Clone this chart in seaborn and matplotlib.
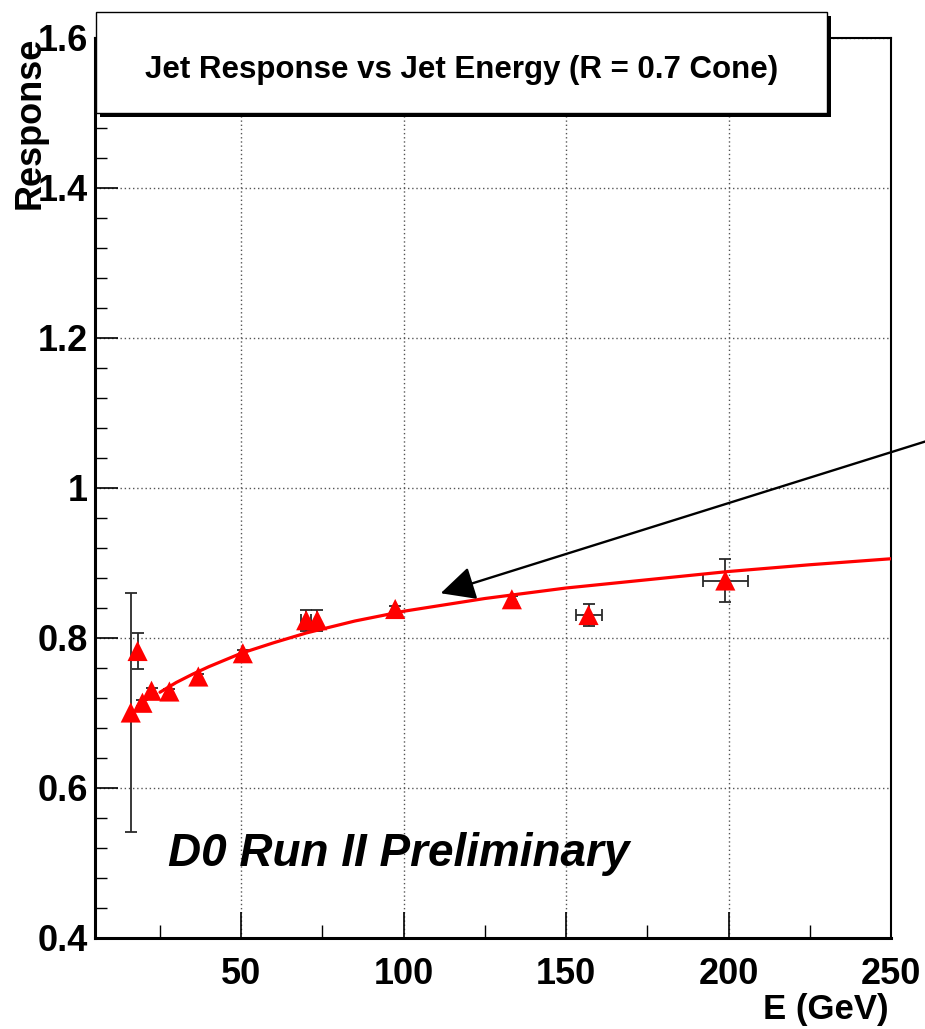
import numpy as np
import pandas as pd
import matplotlib
matplotlib.use("Agg")
import matplotlib.pyplot as plt
from matplotlib.patches import Rectangle
from matplotlib.ticker import MultipleLocator
import seaborn as sns

# Measured jet response per energy bin
energy = [16.0, 18.1, 19.6, 22.4, 27.9, 36.8, 50.5, 70.0, 73.4, 97.4, 133.3, 156.9, 199.0]
response = [0.700, 0.782, 0.713, 0.729, 0.728, 0.748, 0.779, 0.823, 0.823, 0.838, 0.851, 0.830, 0.876]
energy_err = [0, 0, 0, 0, 0, 0, 0, 1.5, 0, 0, 0, 4.0, 7.0]
response_err = [0.159, 0.024, 0.004, 0.004, 0.004, 0.004, 0.004, 0.014, 0.014, 0.004, 0.004, 0.015, 0.029]

# Fitted response curve
fit_energy = [25, 30, 35, 40, 50, 60, 70, 85, 100, 125, 150, 175, 200, 225, 250]
fit_response = [0.727, 0.740, 0.751, 0.761, 0.779, 0.793, 0.806, 0.822, 0.835,
                0.852, 0.866, 0.877, 0.888, 0.897, 0.905]

x_ticks = [50, 100, 150, 200, 250]
y_ticks = [0.4, 0.6, 0.8, 1.0, 1.2, 1.4, 1.6]
y_tick_labels = ["0.4", "0.6", "0.8", "1", "1.2", "1.4", "1.6"]

points = pd.DataFrame({"E": energy, "R": response})
fit = pd.DataFrame({"E": fit_energy, "R": fit_response})

sns.set_theme(style="white")
plt.rcParams["font.family"] = ["Liberation Sans", "DejaVu Sans"]
plt.rcParams["text.color"] = "black"
plt.rcParams["axes.labelcolor"] = "black"
plt.rcParams["xtick.color"] = "black"
plt.rcParams["ytick.color"] = "black"

W, H = 925, 1029
fig = plt.figure(figsize=(W / 100, H / 100), dpi=100)
ax = fig.add_axes([95 / W, 1 - 937.5 / H, 796 / W, 900 / H])

ax.set_xlim(5, 250)
ax.set_ylim(0.4, 1.6)

ax.errorbar(energy, response, xerr=energy_err, yerr=response_err, fmt="none",
            ecolor="#2a2a2a", elinewidth=1.3, capsize=4, capthick=1.3, zorder=3)
sns.lineplot(data=fit, x="E", y="R", color="#ff0000", linewidth=2.3, ax=ax, zorder=4)
sns.scatterplot(data=points, x="E", y="R", marker="^", s=14.5 ** 2, color="#ff0000",
                edgecolor="none", linewidth=0, ax=ax, zorder=5)

ax.set_xticks(x_ticks)
ax.set_xticklabels([str(v) for v in x_ticks])
ax.set_yticks(y_ticks)
ax.set_yticklabels(y_tick_labels)
ax.xaxis.set_minor_locator(MultipleLocator(25))
ax.yaxis.set_minor_locator(MultipleLocator(0.04))

ax.grid(True, which="major", color="#555555", linestyle=(0, (1, 2)), linewidth=1.0)
ax.tick_params(axis="both", which="both", direction="in", colors="black",
               labelcolor="black", left=True, bottom=True, right=False, top=False)
ax.tick_params(axis="y", which="major", length=16.5, width=1.2, pad=5,
               labelsize=26)
ax.tick_params(axis="y", which="minor", length=8.6, width=1.0)
ax.tick_params(axis="x", which="major", length=18.7, width=1.2, pad=14,
               labelsize=26)
ax.tick_params(axis="x", which="minor", length=9.4, width=1.0)
for lab in ax.get_xticklabels() + ax.get_yticklabels():
    lab.set_fontweight("bold")
    lab.set_color("black")

for side in ["left", "bottom"]:
    ax.spines[side].set_linewidth(2.2)
for side in ["right", "top"]:
    ax.spines[side].set_linewidth(1.5)
for s in ax.spines.values():
    s.set_color("black")
    s.set_visible(True)

ax.set_xlabel("")
ax.set_ylabel("")
fig.text(889 / W, 1 - 1010 / H, "E (GeV)", ha="right", va="center",
         fontsize=25, fontweight="bold", color="black")
fig.text(30 / W, 1 - 37 / H, "Response", rotation=90, ha="center", va="top",
         fontsize=26, fontweight="bold", color="black")

ax.text(0.0917, 0.0794, "D0 Run II Preliminary", transform=ax.transAxes,
        fontsize=33, fontweight="bold", fontstyle="italic", ha="left",
        va="baseline", color="black", zorder=6)

# Title box with drop shadow
bx0, by_top, bx1, by_bot = 96, 12, 827, 113
fig.patches.append(Rectangle(((bx0 + 4) / W, 1 - (by_bot + 4) / H),
                             (bx1 - bx0) / W, (by_bot - by_top) / H,
                             transform=fig.transFigure, facecolor="black",
                             edgecolor="none", zorder=10))
fig.patches.append(Rectangle((bx0 / W, 1 - by_bot / H),
                             (bx1 - bx0) / W, (by_bot - by_top) / H,
                             transform=fig.transFigure, facecolor="white",
                             edgecolor="black", linewidth=1.0, zorder=11))
fig.text((bx0 + bx1) / 2 / W, 1 - 70 / H,
         "Jet Response vs Jet Energy (R = 0.7 Cone)", ha="center", va="center",
         fontsize=22.5, fontweight="bold", color="black", zorder=12)

ax.annotate("", xy=(111.4, 0.859), xycoords="data",
            xytext=(1.002, 1 - 441 / H), textcoords="figure fraction",
            arrowprops=dict(arrowstyle="-|>,head_length=1.06,head_width=0.52",
                            mutation_scale=20, color="black", lw=1.7,
                            shrinkA=0, shrinkB=0),
            annotation_clip=False, zorder=7)

fig.savefig("out.png", dpi=100)
